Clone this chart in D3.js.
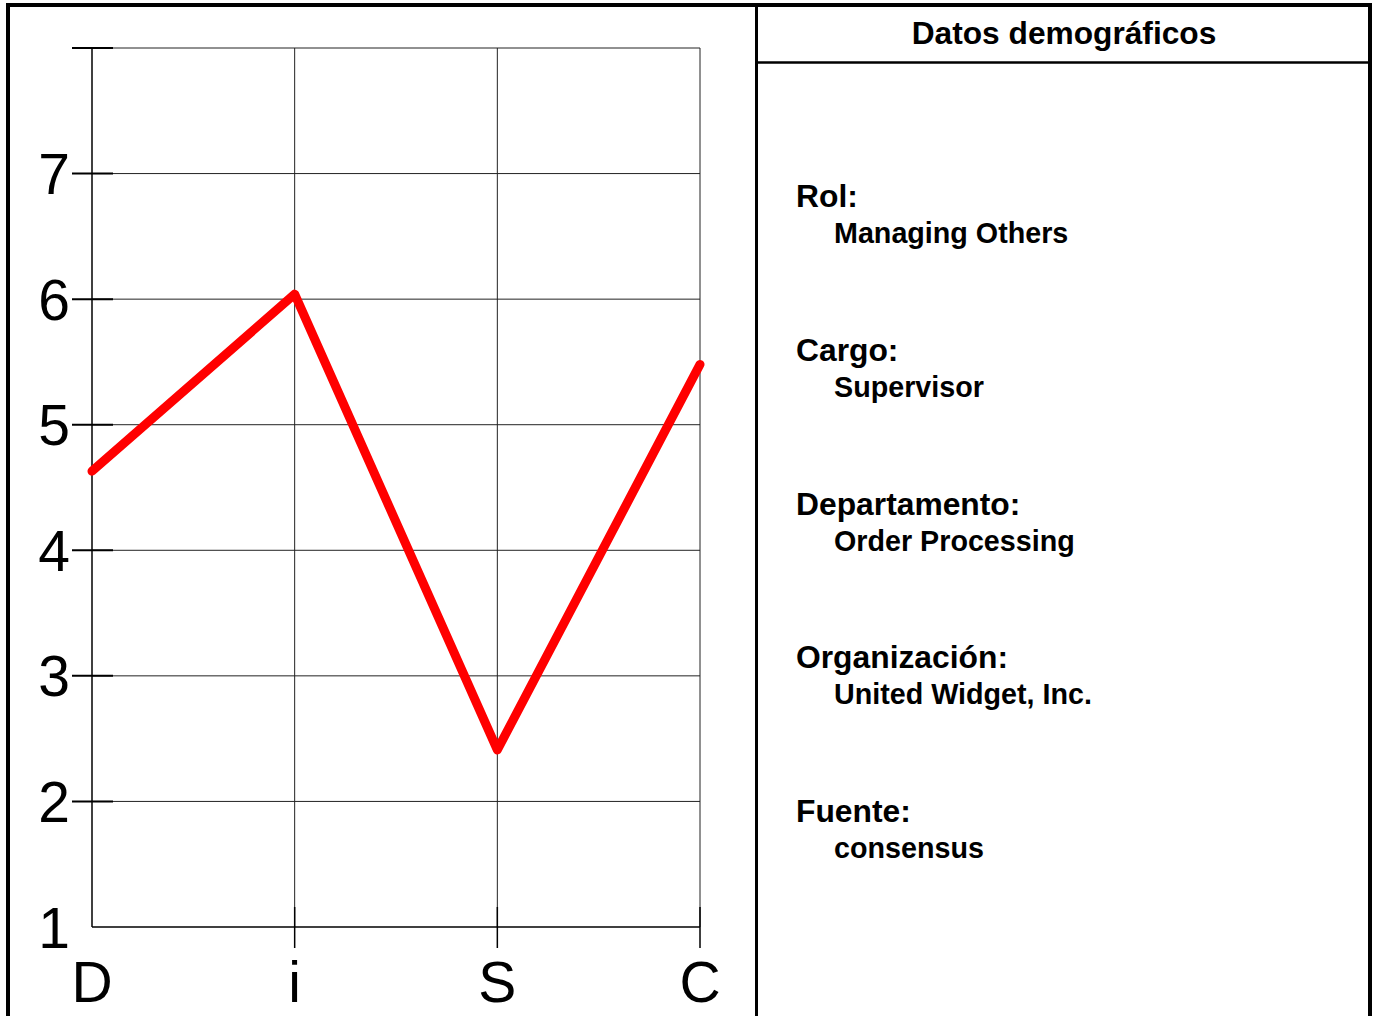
<!DOCTYPE html>
<html>
<head>
<meta charset="utf-8">
<script src="https://cdn.jsdelivr.net/npm/d3@7"></script>
<style>
  body { margin: 0; background: #fff; }
  svg { display: block; font-family: "Liberation Sans", Arial, sans-serif; }
</style>
</head>
<body>
<div id="chart"></div>
<script>
// DiSC profile chart + demographics panel
const discLetters = ["D", "i", "S", "C"];
const discScores = [4.63, 6.04, 2.41, 5.48];
const yTicks = [1, 2, 3, 4, 5, 6, 7];
const gridLevels = [2, 3, 4, 5, 6, 7, 8];

const panelTitle = "Datos demográficos";
const fieldLabels = ["Rol:", "Cargo:", "Departamento:", "Organización:", "Fuente:"];
const fieldValues = ["Managing Others", "Supervisor", "Order Processing", "United Widget, Inc.", "consensus"];

const width = 1374, height = 1016;

const svg = d3.select("#chart")
  .append("svg")
    .attr("width", width)
    .attr("height", height);

const x = d3.scalePoint()
    .domain(discLetters)
    .range([92, 700]);

const y = d3.scaleLinear()
    .domain([1, 8])
    .range([927, 48]);

// horizontal grid lines
svg.append("g")
  .selectAll("line")
  .data(gridLevels)
  .join("line")
    .attr("x1", 92)
    .attr("x2", 700)
    .attr("y1", d => y(d))
    .attr("y2", d => y(d))
    .attr("stroke", "#222")
    .attr("stroke-width", 1);

// vertical grid lines
svg.append("g")
  .selectAll("line")
  .data(discLetters.slice(1))
  .join("line")
    .attr("x1", d => x(d))
    .attr("x2", d => x(d))
    .attr("y1", y(8))
    .attr("y2", y(1))
    .attr("stroke", "#222")
    .attr("stroke-width", 1);

// axes
svg.append("line")
    .attr("x1", x("D")).attr("x2", x("D"))
    .attr("y1", y(8)).attr("y2", y(1))
    .attr("stroke", "#000").attr("stroke-width", 1.5);
svg.append("line")
    .attr("x1", x("D")).attr("x2", x("C"))
    .attr("y1", y(1)).attr("y2", y(1))
    .attr("stroke", "#000").attr("stroke-width", 1.5);

// y tick marks
svg.append("g")
  .selectAll("line")
  .data(gridLevels)
  .join("line")
    .attr("x1", x("D") - 20)
    .attr("x2", x("D") + 21)
    .attr("y1", d => y(d))
    .attr("y2", d => y(d))
    .attr("stroke", "#000")
    .attr("stroke-width", 2);

// x tick marks
svg.append("g")
  .selectAll("line")
  .data(discLetters.slice(1))
  .join("line")
    .attr("x1", d => x(d))
    .attr("x2", d => x(d))
    .attr("y1", y(1) - 20)
    .attr("y2", y(1) + 21)
    .attr("stroke", "#000")
    .attr("stroke-width", 1.5);

// y labels
svg.append("g")
  .selectAll("text")
  .data(yTicks)
  .join("text")
    .attr("x", 70)
    .attr("y", d => y(d))
    .attr("dy", "0.36em")
    .attr("text-anchor", "end")
    .attr("font-size", "57px")
    .text(d => d);

// x labels
svg.append("g")
  .selectAll("text")
  .data(discLetters)
  .join("text")
    .attr("x", d => x(d))
    .attr("y", 1002)
    .attr("text-anchor", "middle")
    .attr("font-size", "57px")
    .text(d => d);

// the profile line
const line = d3.line()
    .x((d, i) => x(discLetters[i]))
    .y(d => y(d));

svg.append("path")
    .datum(discScores)
    .attr("d", line)
    .attr("fill", "none")
    .attr("stroke", "#ff0000")
    .attr("stroke-width", 9)
    .attr("stroke-linecap", "round")
    .attr("stroke-linejoin", "round");

// frame and demographics panel
svg.append("rect")
    .attr("x", 8)
    .attr("y", 5)
    .attr("width", 1362)
    .attr("height", 1100)
    .attr("fill", "none")
    .attr("stroke", "#000")
    .attr("stroke-width", 4);
svg.append("line")
    .attr("x1", 756.5).attr("x2", 756.5)
    .attr("y1", 5).attr("y2", height)
    .attr("stroke", "#000").attr("stroke-width", 3);
svg.append("line")
    .attr("x1", 756).attr("x2", 1370)
    .attr("y1", 62.5).attr("y2", 62.5)
    .attr("stroke", "#000").attr("stroke-width", 2.5);

svg.append("text")
    .attr("x", 1064)
    .attr("y", 44)
    .attr("text-anchor", "middle")
    .attr("font-size", "31.7px")
    .attr("font-weight", "bold")
    .text(panelTitle);

const rowY = d3.scalePoint()
    .domain(fieldLabels)
    .range([207, 822]);

svg.append("g")
  .selectAll("text")
  .data(fieldLabels)
  .join("text")
    .attr("x", 796)
    .attr("y", d => rowY(d))
    .attr("font-size", "31.8px")
    .attr("font-weight", "bold")
    .text(d => d);

svg.append("g")
  .selectAll("text")
  .data(fieldValues)
  .join("text")
    .attr("x", 834)
    .attr("y", (d, i) => rowY(fieldLabels[i]) + 36)
    .attr("font-size", "28.7px")
    .attr("font-weight", "bold")
    .text(d => d);
</script>
</body>
</html>
